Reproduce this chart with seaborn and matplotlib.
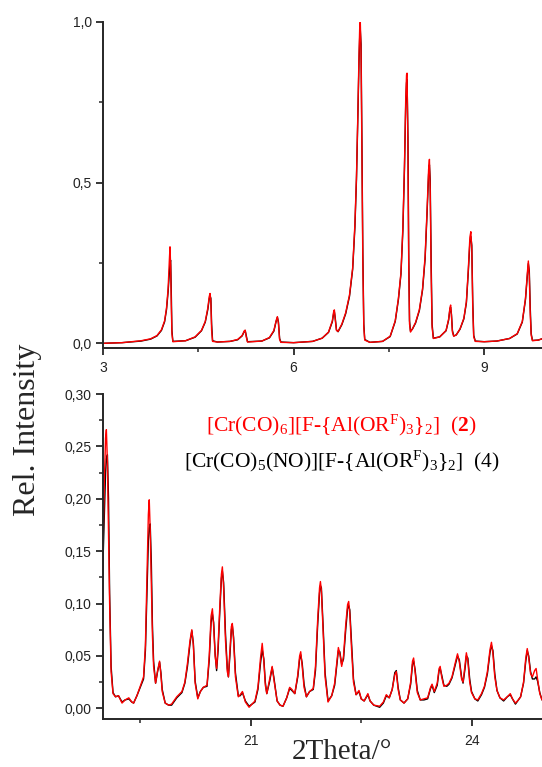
import numpy as np
import pandas as pd
import matplotlib
matplotlib.use("Agg")
import matplotlib.pyplot as plt
import seaborn as sns
from matplotlib.ticker import FuncFormatter, MultipleLocator

# ---- top panel, 2Theta 3..10 ----
top_x = [3.00, 3.30, 3.60, 3.75, 3.85, 3.92, 3.97, 4.00, 4.025, 4.045, 4.055, 4.065, 4.075,
         4.085, 4.10, 4.30, 4.45, 4.55, 4.61, 4.65, 4.672, 4.685, 4.698, 4.71, 4.725, 4.80,
         5.00, 5.12, 5.19, 5.225, 5.238, 5.255, 5.275, 5.50, 5.62, 5.69, 5.725, 5.745,
         5.762, 5.78, 5.80, 6.00, 6.30, 6.45, 6.55, 6.61, 6.632, 6.642, 6.655, 6.675,
         6.70, 6.76, 6.82, 6.88, 6.93, 6.965, 6.99, 7.01, 7.03, 7.042, 7.05, 7.062,
         7.075, 7.09, 7.105, 7.12, 7.20, 7.40, 7.52, 7.60, 7.65, 7.69, 7.72, 7.745,
         7.765, 7.778, 7.786, 7.80, 7.812, 7.825, 7.84, 7.87, 7.92, 7.98, 8.03, 8.07,
         8.10, 8.125, 8.138, 8.15, 8.165, 8.18, 8.20, 8.30, 8.40, 8.44, 8.462, 8.472,
         8.485, 8.50, 8.52, 8.56, 8.62, 8.68, 8.72, 8.75, 8.775, 8.79, 8.805, 8.82,
         8.835, 8.86, 9.00, 9.20, 9.40, 9.52, 9.60, 9.65, 9.68, 9.695, 9.71, 9.725,
         9.74, 9.76, 9.85, 9.91]
top_red = [0.000, 0.002, 0.008, 0.014, 0.024, 0.042, 0.070, 0.110, 0.170, 0.260, 0.300, 0.240, 0.120,
           0.030, 0.005, 0.008, 0.020, 0.040, 0.068, 0.110, 0.145, 0.155, 0.130, 0.040, 0.006, 0.004,
           0.006, 0.012, 0.024, 0.039, 0.041, 0.020, 0.004, 0.007, 0.018, 0.040, 0.070, 0.083,
           0.060, 0.012, 0.003, 0.002, 0.006, 0.016, 0.035, 0.070, 0.100, 0.104, 0.075, 0.040,
           0.037, 0.060, 0.095, 0.150, 0.235, 0.370, 0.520, 0.700, 0.900, 0.990, 1.000, 0.900,
           0.600, 0.250, 0.050, 0.010, 0.003, 0.006, 0.022, 0.070, 0.140, 0.220, 0.360, 0.550,
           0.760, 0.835, 0.840, 0.600, 0.250, 0.060, 0.035, 0.045, 0.065, 0.105, 0.170, 0.270,
           0.410, 0.540, 0.572, 0.480, 0.220, 0.050, 0.015, 0.020, 0.040, 0.075, 0.112, 0.119,
           0.085, 0.035, 0.022, 0.026, 0.045, 0.078, 0.130, 0.230, 0.330, 0.347, 0.290, 0.110,
           0.020, 0.006, 0.005, 0.007, 0.015, 0.030, 0.068, 0.140, 0.220, 0.256, 0.210, 0.090,
           0.025, 0.008, 0.010, 0.014]
top_black = [0.000, 0.002, 0.007, 0.013, 0.023, 0.040, 0.067, 0.105, 0.160, 0.220, 0.250, 0.258, 0.160,
             0.040, 0.006, 0.008, 0.019, 0.039, 0.066, 0.105, 0.138, 0.148, 0.140, 0.060, 0.008, 0.004,
             0.006, 0.011, 0.023, 0.037, 0.040, 0.024, 0.005, 0.007, 0.017, 0.038, 0.068, 0.081,
             0.066, 0.015, 0.004, 0.002, 0.006, 0.016, 0.034, 0.067, 0.095, 0.098, 0.080, 0.042,
             0.036, 0.058, 0.092, 0.146, 0.230, 0.360, 0.510, 0.690, 0.880, 0.960, 0.975, 0.930,
             0.640, 0.280, 0.060, 0.012, 0.003, 0.006, 0.021, 0.068, 0.136, 0.215, 0.350, 0.540,
             0.740, 0.810, 0.820, 0.640, 0.280, 0.070, 0.038, 0.044, 0.063, 0.102, 0.166, 0.262,
             0.400, 0.525, 0.555, 0.510, 0.260, 0.060, 0.016, 0.020, 0.039, 0.072, 0.108, 0.112,
             0.090, 0.040, 0.023, 0.026, 0.044, 0.076, 0.126, 0.222, 0.315, 0.332, 0.305, 0.130,
             0.025, 0.007, 0.005, 0.007, 0.015, 0.029, 0.066, 0.136, 0.212, 0.248, 0.225, 0.110,
             0.030, 0.009, 0.010, 0.014]

# ---- bottom panel, 2Theta 19..25 ----
bot_x = [18.99, 19.00, 19.02, 19.035, 19.046, 19.06, 19.075, 19.09, 19.11, 19.136, 19.17,
         19.21, 19.258, 19.30, 19.35, 19.39, 19.415, 19.46, 19.505, 19.55, 19.575, 19.60,
         19.615, 19.627, 19.64, 19.655, 19.67, 19.686, 19.713, 19.74, 19.767, 19.785,
         19.803, 19.843, 19.89, 19.93, 20.00, 20.07, 20.11, 20.145, 20.18, 20.204, 20.225,
         20.249, 20.285, 20.32, 20.36, 20.41, 20.44, 20.465, 20.483, 20.50, 20.52, 20.54,
         20.56, 20.585, 20.605, 20.618, 20.635, 20.66, 20.685, 20.70, 20.72, 20.74, 20.753,
         20.77, 20.795, 20.834, 20.86, 20.89, 20.93, 20.98, 21.06, 21.10, 21.135, 21.158,
         21.18, 21.20, 21.22, 21.26, 21.293, 21.315, 21.36, 21.40, 21.44, 21.49, 21.53,
         21.56, 21.60, 21.64, 21.665, 21.68, 21.70, 21.725, 21.757, 21.80, 21.85, 21.88,
         21.91, 21.935, 21.947, 21.96, 21.985, 22.01, 22.05, 22.10, 22.14, 22.17, 22.19,
         22.21, 22.235, 22.26, 22.29, 22.315, 22.33, 22.345, 22.37, 22.395, 22.43, 22.47,
         22.50, 22.54, 22.59, 22.62, 22.67, 22.75, 22.80, 22.84, 22.88, 22.92, 22.955,
         22.975, 23.00, 23.03, 23.08, 23.13, 23.17, 23.195, 23.21, 23.23, 23.26, 23.30,
         23.35, 23.40, 23.44, 23.46, 23.49, 23.53, 23.555, 23.57, 23.59, 23.62, 23.66,
         23.69, 23.73, 23.78, 23.805, 23.83, 23.86, 23.88, 23.905, 23.925, 23.945, 23.97,
         23.995, 24.04, 24.08, 24.13, 24.17, 24.21, 24.245, 24.265, 24.285, 24.31, 24.34,
         24.38, 24.43, 24.48, 24.52, 24.55, 24.59, 24.63, 24.66, 24.70, 24.73, 24.75,
         24.77, 24.795, 24.82, 24.85, 24.87, 24.89, 24.92, 24.95]
bot_red = [0.105, 0.150, 0.220, 0.258, 0.266, 0.235, 0.170, 0.100, 0.035, 0.014, 0.011,
           0.012, 0.005, 0.008, 0.010, 0.006, 0.005, 0.012, 0.021, 0.030, 0.060, 0.140,
           0.185, 0.199, 0.170, 0.120, 0.070, 0.040, 0.024, 0.036, 0.045, 0.032,
           0.016, 0.005, 0.003, 0.004, 0.011, 0.016, 0.025, 0.043, 0.065, 0.075, 0.060,
           0.024, 0.009, 0.016, 0.020, 0.022, 0.050, 0.088, 0.095, 0.078, 0.050, 0.038,
           0.060, 0.100, 0.128, 0.135, 0.115, 0.065, 0.035, 0.030, 0.055, 0.078, 0.081,
           0.065, 0.030, 0.011, 0.013, 0.016, 0.006, 0.001, 0.007, 0.020, 0.048, 0.062,
           0.045, 0.022, 0.014, 0.028, 0.040, 0.028, 0.007, 0.003, 0.002, 0.010, 0.020,
           0.018, 0.014, 0.032, 0.050, 0.054, 0.040, 0.020, 0.011, 0.016, 0.019, 0.040,
           0.085, 0.115, 0.121, 0.112, 0.070, 0.030, 0.006, 0.012, 0.024, 0.045, 0.058,
           0.052, 0.040, 0.050, 0.080, 0.099, 0.102, 0.090, 0.055, 0.025, 0.013, 0.017,
           0.009, 0.007, 0.014, 0.007, 0.003, 0.002, 0.006, 0.013, 0.010, 0.018, 0.032,
           0.035, 0.018, 0.008, 0.005, 0.009, 0.025, 0.045, 0.048, 0.035, 0.015, 0.008,
           0.009, 0.010, 0.020, 0.023, 0.016, 0.024, 0.038, 0.040, 0.030, 0.021, 0.022,
           0.024, 0.030, 0.045, 0.052, 0.044, 0.028, 0.025, 0.040, 0.053, 0.045, 0.025,
           0.015, 0.009, 0.008, 0.014, 0.021, 0.035, 0.056, 0.063, 0.052, 0.030, 0.017,
           0.010, 0.008, 0.011, 0.014, 0.009, 0.005, 0.008, 0.011, 0.025, 0.048, 0.057,
           0.048, 0.033, 0.030, 0.036, 0.038, 0.028, 0.014, 0.008]
bot_black = [0.115, 0.140, 0.190, 0.225, 0.238, 0.242, 0.200, 0.110, 0.040, 0.015, 0.011,
             0.012, 0.006, 0.008, 0.009, 0.006, 0.005, 0.012, 0.020, 0.028, 0.055, 0.120,
             0.160, 0.172, 0.176, 0.140, 0.080, 0.045, 0.024, 0.035, 0.044, 0.034,
             0.018, 0.005, 0.003, 0.003, 0.010, 0.015, 0.024, 0.040, 0.062, 0.074, 0.062,
             0.026, 0.010, 0.016, 0.020, 0.021, 0.046, 0.082, 0.090, 0.082, 0.052, 0.036,
             0.055, 0.095, 0.124, 0.131, 0.120, 0.072, 0.038, 0.030, 0.050, 0.075, 0.079,
             0.068, 0.034, 0.012, 0.012, 0.015, 0.007, 0.002, 0.006, 0.018, 0.043, 0.056,
             0.047, 0.025, 0.014, 0.026, 0.039, 0.030, 0.007, 0.003, 0.002, 0.010, 0.019,
             0.017, 0.014, 0.030, 0.047, 0.051, 0.043, 0.023, 0.011, 0.016, 0.018, 0.036,
             0.080, 0.110, 0.117, 0.115, 0.076, 0.034, 0.007, 0.012, 0.022, 0.042, 0.055,
             0.054, 0.042, 0.047, 0.075, 0.095, 0.098, 0.094, 0.060, 0.028, 0.013, 0.016,
             0.009, 0.007, 0.013, 0.007, 0.003, 0.001, 0.005, 0.012, 0.010, 0.018, 0.034,
             0.036, 0.020, 0.008, 0.005, 0.009, 0.023, 0.042, 0.045, 0.037, 0.017, 0.008,
             0.008, 0.009, 0.019, 0.022, 0.015, 0.022, 0.036, 0.038, 0.032, 0.022, 0.021,
             0.023, 0.029, 0.043, 0.050, 0.046, 0.030, 0.024, 0.037, 0.050, 0.048, 0.028,
             0.016, 0.009, 0.007, 0.013, 0.020, 0.033, 0.053, 0.060, 0.055, 0.033, 0.017,
             0.010, 0.007, 0.011, 0.013, 0.009, 0.004, 0.008, 0.011, 0.024, 0.045, 0.055,
             0.050, 0.035, 0.028, 0.028, 0.030, 0.026, 0.015, 0.008]

label_red = r"[Cr(CO)$_6$][F-{Al(OR$^{\rm F}$)$_3$}$_2$]  ($\mathbf{2}$)"
label_black = r"[Cr(CO)$_5$(NO)][F-{Al(OR$^{\rm F}$)$_3$}$_2$]  (4)"


def long_form(x, red, black):
    return pd.concat([
        pd.DataFrame({"2theta": x, "I": black, "sample": "4"}),
        pd.DataFrame({"2theta": x, "I": red, "sample": "2"}),
    ], ignore_index=True)


sns.set_style("ticks")
plt.rcParams["font.family"] = ["Liberation Sans", "DejaVu Sans"]
plt.rcParams["mathtext.fontset"] = "custom"
plt.rcParams["mathtext.rm"] = "Liberation Serif"
plt.rcParams["mathtext.it"] = "Liberation Serif:italic"
plt.rcParams["mathtext.bf"] = "Liberation Serif:bold"

colors = {"4": "black", "2": "#ff0000"}

fig = plt.figure(figsize=(5.42, 7.67), dpi=100)
ax1 = fig.add_axes([0.190, 0.5459, 0.81, 0.4258])
ax2 = fig.add_axes([0.190, 0.0626, 0.81, 0.4237])

for ax, df in ((ax1, long_form(top_x, top_red, top_black)),
               (ax2, long_form(bot_x, bot_red, bot_black))):
    sns.lineplot(data=df, x="2theta", y="I", hue="sample", palette=colors,
                 hue_order=["4", "2"], estimator=None, linewidth=1.0,
                 legend=False, ax=ax)

ax1.set_xlim(3.0, 9.91)
ax1.set_ylim(-0.0155, 1.0)
ax1.xaxis.set_major_locator(MultipleLocator(3))
ax1.xaxis.set_minor_locator(MultipleLocator(1.5))
ax1.yaxis.set_major_locator(MultipleLocator(0.5))
ax1.yaxis.set_minor_locator(MultipleLocator(0.25))
ax1.yaxis.set_major_formatter(FuncFormatter(lambda v, p: f"{v:.1f}".replace(".", ",")))
ax1.xaxis.set_major_formatter(FuncFormatter(lambda v, p: f"{v:.0f}"))

ax2.set_xlim(19.0, 24.95)
ax2.set_ylim(-0.0102, 0.30)
ax2.xaxis.set_major_locator(MultipleLocator(3))
ax2.xaxis.set_minor_locator(MultipleLocator(1.5))
ax2.yaxis.set_major_locator(MultipleLocator(0.05))
ax2.yaxis.set_minor_locator(MultipleLocator(0.025))
ax2.yaxis.set_major_formatter(FuncFormatter(lambda v, p: f"{v:.2f}".replace(".", ",")))
ax2.xaxis.set_major_formatter(FuncFormatter(lambda v, p: f"{v:.0f}"))

for ax in (ax1, ax2):
    sns.despine(ax=ax)
    ax.spines["left"].set_linewidth(1.4)
    ax.spines["bottom"].set_linewidth(1.4)
    ax.tick_params(which="major", direction="out", length=5, width=1.3,
                   labelsize=10, labelcolor="#222222", pad=3)
    ax.tick_params(which="minor", direction="out", length=3, width=1.1)
    ax.set_xlabel("")
    ax.set_ylabel("")
ax1.tick_params(axis="x", which="major", pad=4)
ax2.tick_params(axis="x", which="major", pad=6)

fig.text(0.05, 0.44, "Rel. Intensity", rotation=90, ha="center", va="center",
         family="Liberation Serif", fontsize=23)
fig.text(0.631, 0.003, "2Theta/\u00b0", ha="center", va="bottom",
         family="Liberation Serif", fontsize=21)
fig.text(0.630, 0.4459, label_red, ha="center", va="center", color="#ff0000",
         family="Liberation Serif", fontsize=15.5)
fig.text(0.630, 0.398, label_black, ha="center", va="center", color="black",
         family="Liberation Serif", fontsize=15.5)

fig.savefig("out.png", dpi=100)
